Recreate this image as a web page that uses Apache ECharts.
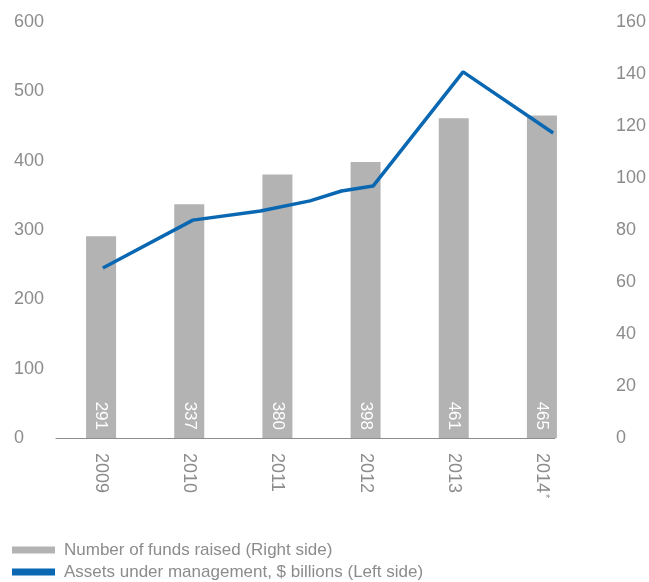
<!DOCTYPE html>
<html>
<head>
<meta charset="utf-8">
<script src="https://cdn.jsdelivr.net/npm/echarts@6/dist/echarts.min.js"></script>
<style>
  html, body { margin: 0; padding: 0; background: #fff; }
  #chart { width: 649px; height: 582px; }
</style>
</head>
<body>
<div id="chart"></div>
<script>
// categories and bar values (number of funds raised)
const years = ['2009', '2010', '2011', '2012', '2013', '2014*']
const funds = [291, 337, 380, 398, 461, 465]

// assets under management, $ billions
const aumYears = [2009, 2010, 2010.75, 2011.3, 2011.65, 2012, 2013, 2014]
const aumValues = [65.4, 83.8, 87.3, 91.2, 95, 96.9, 140.8, 117.3]

const leftTicks = { min: 0, max: 600, interval: 100 }
const rightTicks = { min: 0, max: 160, interval: 20 }

const grey = '#8c8c8c'
const font = 'Liberation Sans, Arial, sans-serif'

const chart = echarts.init(document.getElementById('chart'))

const option = {
  animation: false,
  textStyle: { fontFamily: font },
  grid: [
    // bars
    { left: 57, right: 63, top: 22, bottom: 144 },
    // line (slightly different x spread)
    { left: 56, right: 92, top: 22, bottom: 144 },
  ],
  legend: {
    orient: 'vertical',
    left: 12,
    top: 541,
    height: 60,
    padding: 0,
    itemWidth: 43,
    itemHeight: 7,
    itemGap: 4,
    itemStyle: { borderWidth: 0 },
    textStyle: {
      color: grey,
      fontSize: 17,
      lineHeight: 18,
      fontFamily: font,
      padding: [0, 0, 0, 4],
    },
    data: [
      { name: 'Number of funds raised (Right side)', icon: 'rect' },
      { name: 'Assets under management, $ billions (Left side)', icon: 'rect' },
    ],
  },
  xAxis: [
    {
      type: 'category',
      gridIndex: 0,
      data: years,
      axisLine: { show: false },
      axisTick: { show: false },
      axisLabel: {
        rotate: -90,
        margin: 15,
        color: grey,
        fontSize: 18,
        formatter: (v) => v.endsWith('*') ? v.slice(0, -1) + '{s|*}' : v,
        rich: {
          s: { fontSize: 11, color: grey, verticalAlign: 'top', padding: [0, 0, 6, 1] },
        },
      },
    },
    {
      type: 'value',
      gridIndex: 1,
      min: 2008.48,
      max: 2014.02,
      axisLine: { show: true, lineStyle: { color: grey, width: 1 } },
      axisTick: { show: false },
      axisLabel: { show: false },
      splitLine: { show: false },
    },
  ],
  yAxis: [
    {
      type: 'value',
      gridIndex: 0,
      position: 'left',
      ...leftTicks,
      axisLine: { show: false },
      axisTick: { show: false },
      splitLine: { show: false },
      axisLabel: { color: grey, fontSize: 18, align: 'left', margin: 43 },
    },
    {
      type: 'value',
      gridIndex: 1,
      position: 'right',
      ...rightTicks,
      axisLine: { show: false },
      axisTick: { show: false },
      splitLine: { show: false },
      axisLabel: { color: grey, fontSize: 18, align: 'left', margin: 61 },
    },
  ],
  series: [
    {
      name: 'Number of funds raised (Right side)',
      type: 'bar',
      xAxisIndex: 0,
      yAxisIndex: 0,
      data: funds,
      barWidth: 30,
      itemStyle: { color: '#b3b3b3' },
      label: {
        show: true,
        position: 'insideBottom',
        distance: 8,
        rotate: -90,
        align: 'right',
        verticalAlign: 'middle',
        color: '#fff',
        fontSize: 17,
      },
    },
    {
      name: 'Assets under management, $ billions (Left side)',
      type: 'line',
      xAxisIndex: 1,
      yAxisIndex: 1,
      data: aumYears.map((y, i) => [y, aumValues[i]]),
      symbol: 'none',
      lineStyle: { color: '#0a68b3', width: 3.5 },
      itemStyle: { color: '#0a68b3' },
    },
  ],
}

chart.setOption(option)
</script>
</body>
</html>
